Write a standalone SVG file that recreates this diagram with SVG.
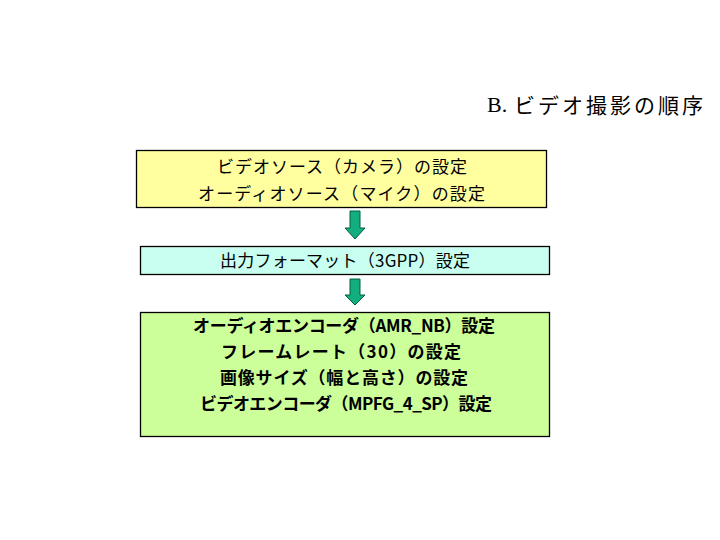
<svg xmlns="http://www.w3.org/2000/svg" width="720" height="540" viewBox="0 0 720 540">
<style>
.box{stroke:#000;stroke-width:1.3}
.t{font-family:"Noto Sans CJK JP","Liberation Sans",sans-serif;font-size:17px;fill:#000}
.b{font-weight:bold}
.arrow{fill:#12AE80;stroke:#00603F;stroke-width:1}
</style>
<rect width="720" height="540" fill="#fff"/>
<g id="title">
<text x="487" y="112" font-family="Liberation Serif,serif" font-size="22">B.</text>
<text x="514" y="113" class="t" style="font-size:21px" textLength="189" lengthAdjust="spacing">ビデオ撮影の順序</text>
</g>
<g id="node-source">
<rect class="box" x="136.5" y="150.5" width="410" height="57" fill="#FFFFA0"/>
<text class="t" x="217" y="173" textLength="250" lengthAdjust="spacing">ビデオソース（カメラ）の設定</text>
<text class="t" x="198" y="200" textLength="287" lengthAdjust="spacing">オーディオソース（マイク）の設定</text>
</g>
<g id="node-format">
<rect class="box" x="140.5" y="246.5" width="409" height="28" fill="#C8FFF0"/>
<text class="t" x="220" y="267" textLength="250" lengthAdjust="spacing">出力フォーマット（3GPP）設定</text>
</g>
<g id="node-encoder">
<rect class="box" x="140.5" y="312.5" width="409" height="124" fill="#CCFF99"/>
<text class="t b" x="193" y="332" textLength="302" lengthAdjust="spacing">オーディオエンコーダ（AMR_NB）設定</text>
<text class="t b" x="221" y="358" textLength="240" lengthAdjust="spacing">フレームレート（30）の設定</text>
<text class="t b" x="220" y="384" textLength="248" lengthAdjust="spacing">画像サイズ（幅と高さ）の設定</text>
<text class="t b" x="200" y="410" textLength="292" lengthAdjust="spacing">ビデオエンコーダ（MPFG_4_SP）設定</text>
</g>
<g id="connectors">
<polygon class="arrow" points="350,211 360,211 360,228 365,228 355,239 345,228 350,228"/>
<polygon class="arrow" points="350,279 360,279 360,295 365,295 355,305 345,295 350,295"/>
</g>
</svg>
